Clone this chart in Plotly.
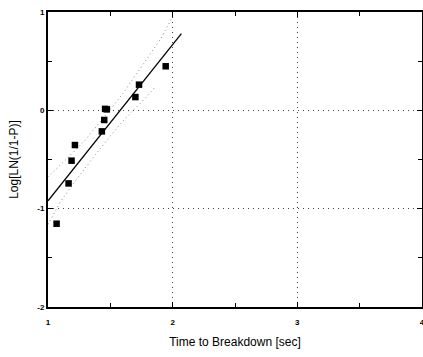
import plotly.graph_objects as go

# Data points (time to breakdown, log[ln(1/(1-P))])
time_sec = [1.069, 1.165, 1.189, 1.216, 1.432, 1.451, 1.458, 1.472, 1.701, 1.730, 1.944]
log_ln = [-1.153, -0.743, -0.512, -0.353, -0.214, -0.098, 0.015, 0.010, 0.135, 0.261, 0.448]

# Fitted line (end points)
fit_x = [1.0, 2.07]
fit_y = [-0.92, 0.78]

# Confidence bands
upper_x = [1.0, 1.1, 1.2, 1.3, 1.4, 1.5, 1.6, 1.7, 1.8, 1.9, 1.99]
upper_y = [-0.68, -0.56, -0.43, -0.30, -0.15, 0.01, 0.17, 0.35, 0.53, 0.72, 0.93]
lower_x = [1.0, 1.1, 1.2, 1.3, 1.4, 1.5, 1.6, 1.7, 1.8, 1.86]
lower_y = [-1.16, -0.93, -0.75, -0.58, -0.42, -0.26, -0.11, 0.02, 0.15, 0.24]

x_ticks = [1, 2, 3, 4]
y_ticks = [-2, -1, 0, 1]

fig = go.Figure()
fig.add_trace(go.Scatter(x=upper_x, y=upper_y, mode="lines",
                         line=dict(color="#888888", width=1, dash="1px,3px"), hoverinfo="skip"))
fig.add_trace(go.Scatter(x=lower_x, y=lower_y, mode="lines",
                         line=dict(color="#888888", width=1, dash="1px,3px"), hoverinfo="skip"))
fig.add_trace(go.Scatter(x=fit_x, y=fit_y, mode="lines",
                         line=dict(color="black", width=1.3)))
fig.add_trace(go.Scatter(x=time_sec, y=log_ln, mode="markers",
                         marker=dict(symbol="square", size=6.5, color="black")))

axis_common = dict(
    showline=True, linecolor="black", linewidth=2, mirror="allticks",
    ticks="inside", ticklen=5, tickcolor="black", tickwidth=1,
    showgrid=True, gridcolor="#444444", griddash="1px,4px", gridwidth=1,
    zeroline=False, automargin=False, ticklabeloverflow="allow",
    tickfont=dict(family="Arial, Liberation Sans", size=8, color="black", weight="bold"),
    minor=dict(ticks="inside", ticklen=4, tickcolor="black", tickwidth=1, dtick=0.5, showgrid=False),
)

fig.update_xaxes(range=[1, 4], tickvals=x_ticks, ticktext=[str(v) for v in x_ticks],
                 ticklabelstandoff=6,
                 title=dict(text="Time to Breakdown [sec]", standoff=12,
                            font=dict(family="Arial, Liberation Sans", size=12, color="black")),
                 **axis_common)
fig.update_yaxes(range=[-2, 1], tickvals=y_ticks, ticktext=[str(v) for v in y_ticks],
                 title=dict(text="Log[LN(1/1-P)]", standoff=16,
                            font=dict(family="Arial, Liberation Sans", size=12, color="black")),
                 **axis_common)

fig.update_layout(
    width=423, height=357,
    margin=dict(l=48, r=1, t=12, b=50),
    paper_bgcolor="white", plot_bgcolor="white",
    showlegend=False,
)

fig.write_html("out.html")
